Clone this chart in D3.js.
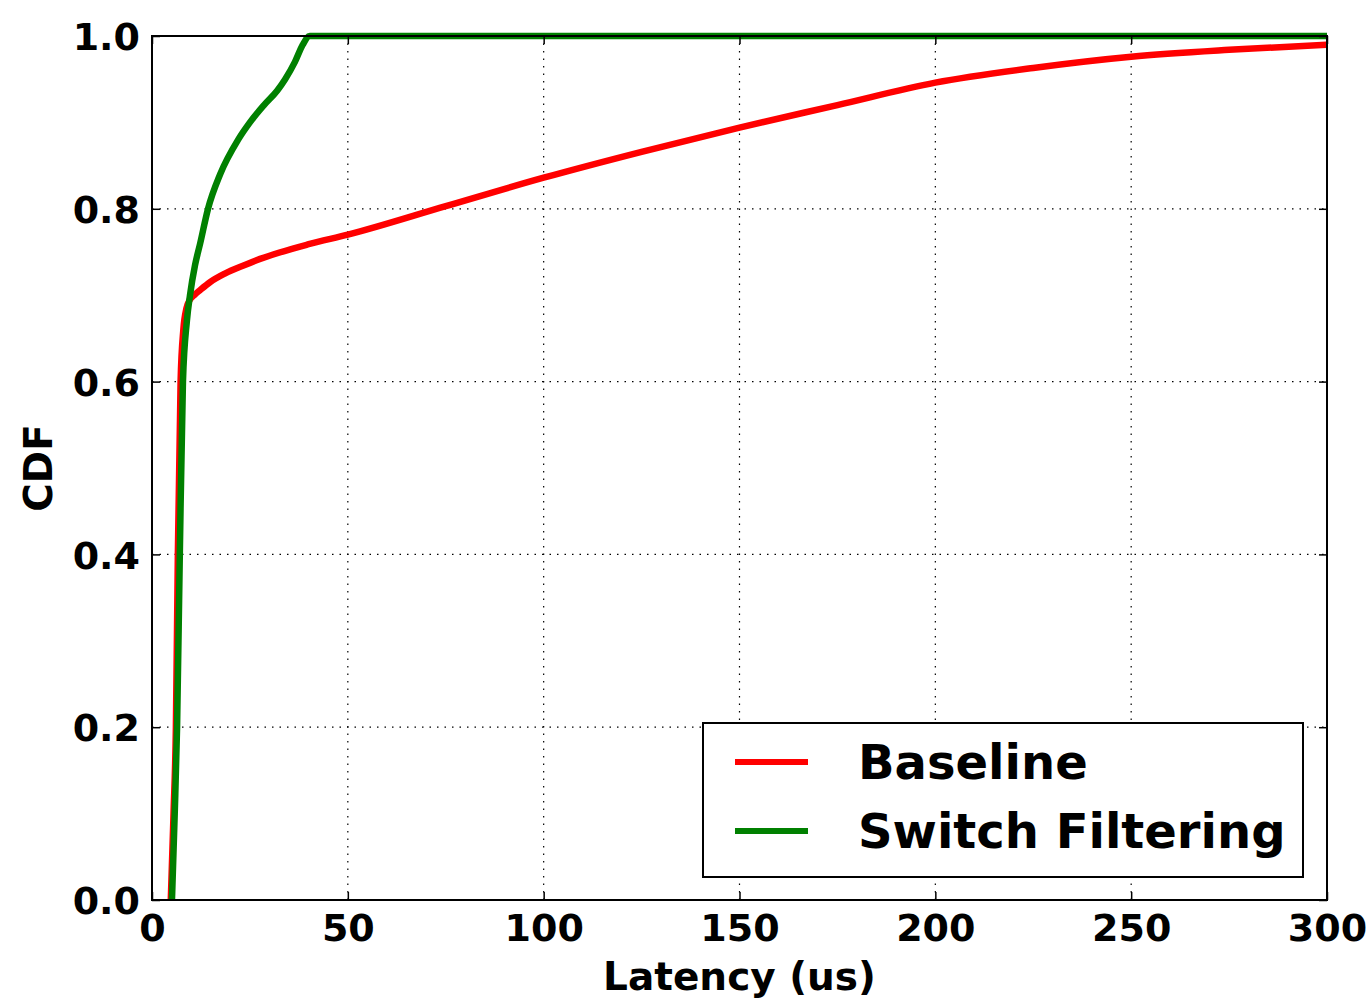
<!DOCTYPE html>
<html><head><meta charset="utf-8">
<script src="https://cdn.jsdelivr.net/npm/d3@7"></script>
<style>body{margin:0;background:#fff}svg text{font-family:"DejaVu Sans";font-weight:bold;fill:#000}</style>
</head><body><svg id="c" width="1372" height="1000"></svg>
<script>
const seriesNames = ["Baseline", "Switch Filtering"];
const seriesColors = ["#ff0000", "#008000"];
const baselineX = [4.8, 5.5, 6.1, 6.6, 7.3, 8.0, 8.8, 9.7, 11.0, 12.3, 14.8, 18.6, 23.7, 27.6, 40, 50, 75, 100, 125, 150, 175, 200, 225, 250, 275, 300];
const baselineY = [0.0, 0.1, 0.2, 0.4, 0.6, 0.66, 0.685, 0.695, 0.701, 0.706, 0.715, 0.725, 0.735, 0.742, 0.759, 0.770, 0.803, 0.836, 0.866, 0.894, 0.920, 0.946, 0.963, 0.976, 0.984, 0.990];
const switchX = [5.1, 5.8, 6.4, 7.1, 7.9, 8.9, 9.7, 11.0, 12.3, 14.3, 17.4, 22.0, 25.0, 28.6, 32.0, 34.0, 36.5, 38.5, 40.3, 300];
const switchY = [0.0, 0.1, 0.2, 0.4, 0.6, 0.67, 0.70, 0.735, 0.76, 0.80, 0.84, 0.88, 0.90, 0.92, 0.937, 0.95, 0.97, 0.99, 1.0, 1.0];
const xTicks = [0, 50, 100, 150, 200, 250, 300];
const yTicks = [0.0, 0.2, 0.4, 0.6, 0.8, 1.0];

const svg = d3.select("#c");
const L = 152, R = 1327, T = 36, B = 900;
const x = d3.scaleLinear().domain([0, 300]).range([L, R]);
const y = d3.scaleLinear().domain([0, 1]).range([B, T]);

const clip = svg.append("defs").append("clipPath").attr("id", "clip");
clip.append("rect").attr("x", L).attr("y", T - 4).attr("width", R - L).attr("height", B - T + 4);

// grid
const g = svg.append("g");
g.selectAll(".gx").data(xTicks.slice(1, -1)).enter().append("line")
  .attr("x1", d => x(d)).attr("x2", d => x(d)).attr("y1", T).attr("y2", B)
  .attr("stroke", "#000").attr("stroke-width", 1.2).attr("stroke-dasharray", "1.5,6");
g.selectAll(".gy").data(yTicks.slice(1, -1)).enter().append("line")
  .attr("y1", d => y(d)).attr("y2", d => y(d)).attr("x1", L).attr("x2", R)
  .attr("stroke", "#000").attr("stroke-width", 1.2).attr("stroke-dasharray", "1.5,6");

// lines
const line = d3.line().x(d => x(d[0])).y(d => y(d[1])).curve(d3.curveMonotoneX);
const datasets = [d3.zip(baselineX, baselineY), d3.zip(switchX, switchY)];
const lg = svg.append("g").attr("clip-path", "url(#clip)");
datasets.forEach((ds, i) => {
  lg.append("path").datum(ds).attr("d", line).attr("fill", "none")
    .attr("stroke", seriesColors[i]).attr("stroke-width", 6.5).attr("stroke-linejoin", "round");
});

// axes with inward ticks
const fs = 38;
const xb = svg.append("g").attr("transform", `translate(0,${B})`)
  .call(d3.axisBottom(x).tickValues(xTicks).tickFormat(d3.format("d")).tickSizeInner(-8).tickSizeOuter(0).tickPadding(14));
const xt = svg.append("g").attr("transform", `translate(0,${T})`)
  .call(d3.axisTop(x).tickValues(xTicks).tickFormat("").tickSizeInner(-8).tickSizeOuter(0));
const yl = svg.append("g").attr("transform", `translate(${L},0)`)
  .call(d3.axisLeft(y).tickValues(yTicks).tickFormat(d3.format(".1f")).tickSizeInner(-8).tickSizeOuter(0).tickPadding(12));
const yr = svg.append("g").attr("transform", `translate(${R},0)`)
  .call(d3.axisRight(y).tickValues(yTicks).tickFormat("").tickSizeInner(-8).tickSizeOuter(0));
[xb, xt, yl, yr].forEach(a => {
  a.select(".domain").remove();
  a.selectAll(".tick line").attr("stroke", "#000").attr("stroke-width", 1.5);
  a.selectAll("text").attr("font-size", fs).attr("font-family", "DejaVu Sans").attr("font-weight", "bold").attr("fill", "#000");
});
xb.selectAll("text").attr("dy", "0.71em");
yl.selectAll("text").attr("dy", "0.36em");

// frame
svg.append("rect").attr("x", L).attr("y", T).attr("width", R - L).attr("height", B - T)
  .attr("fill", "none").attr("stroke", "#000").attr("stroke-width", 2);

// axis labels
svg.append("text").attr("x", (L + R) / 2).attr("y", 990).attr("text-anchor", "middle")
  .attr("font-size", 39).text("Latency (us)");
svg.append("text").attr("transform", `translate(52,${(T + B) / 2}) rotate(-90)`).attr("text-anchor", "middle")
  .attr("font-size", 39).text("CDF");

// legend
const lgd = svg.append("g");
lgd.append("rect").attr("x", 703).attr("y", 723).attr("width", 600).attr("height", 154)
  .attr("fill", "#fff").attr("stroke", "#000").attr("stroke-width", 2);
seriesNames.forEach((n, i) => {
  const yy = 762 + i * 69;
  lgd.append("line").attr("x1", 735).attr("x2", 808).attr("y1", yy).attr("y2", yy)
    .attr("stroke", seriesColors[i]).attr("stroke-width", 6);
  lgd.append("text").attr("x", 858).attr("y", yy + 17).attr("font-size", 48).text(n);
});
</script></body></html>
